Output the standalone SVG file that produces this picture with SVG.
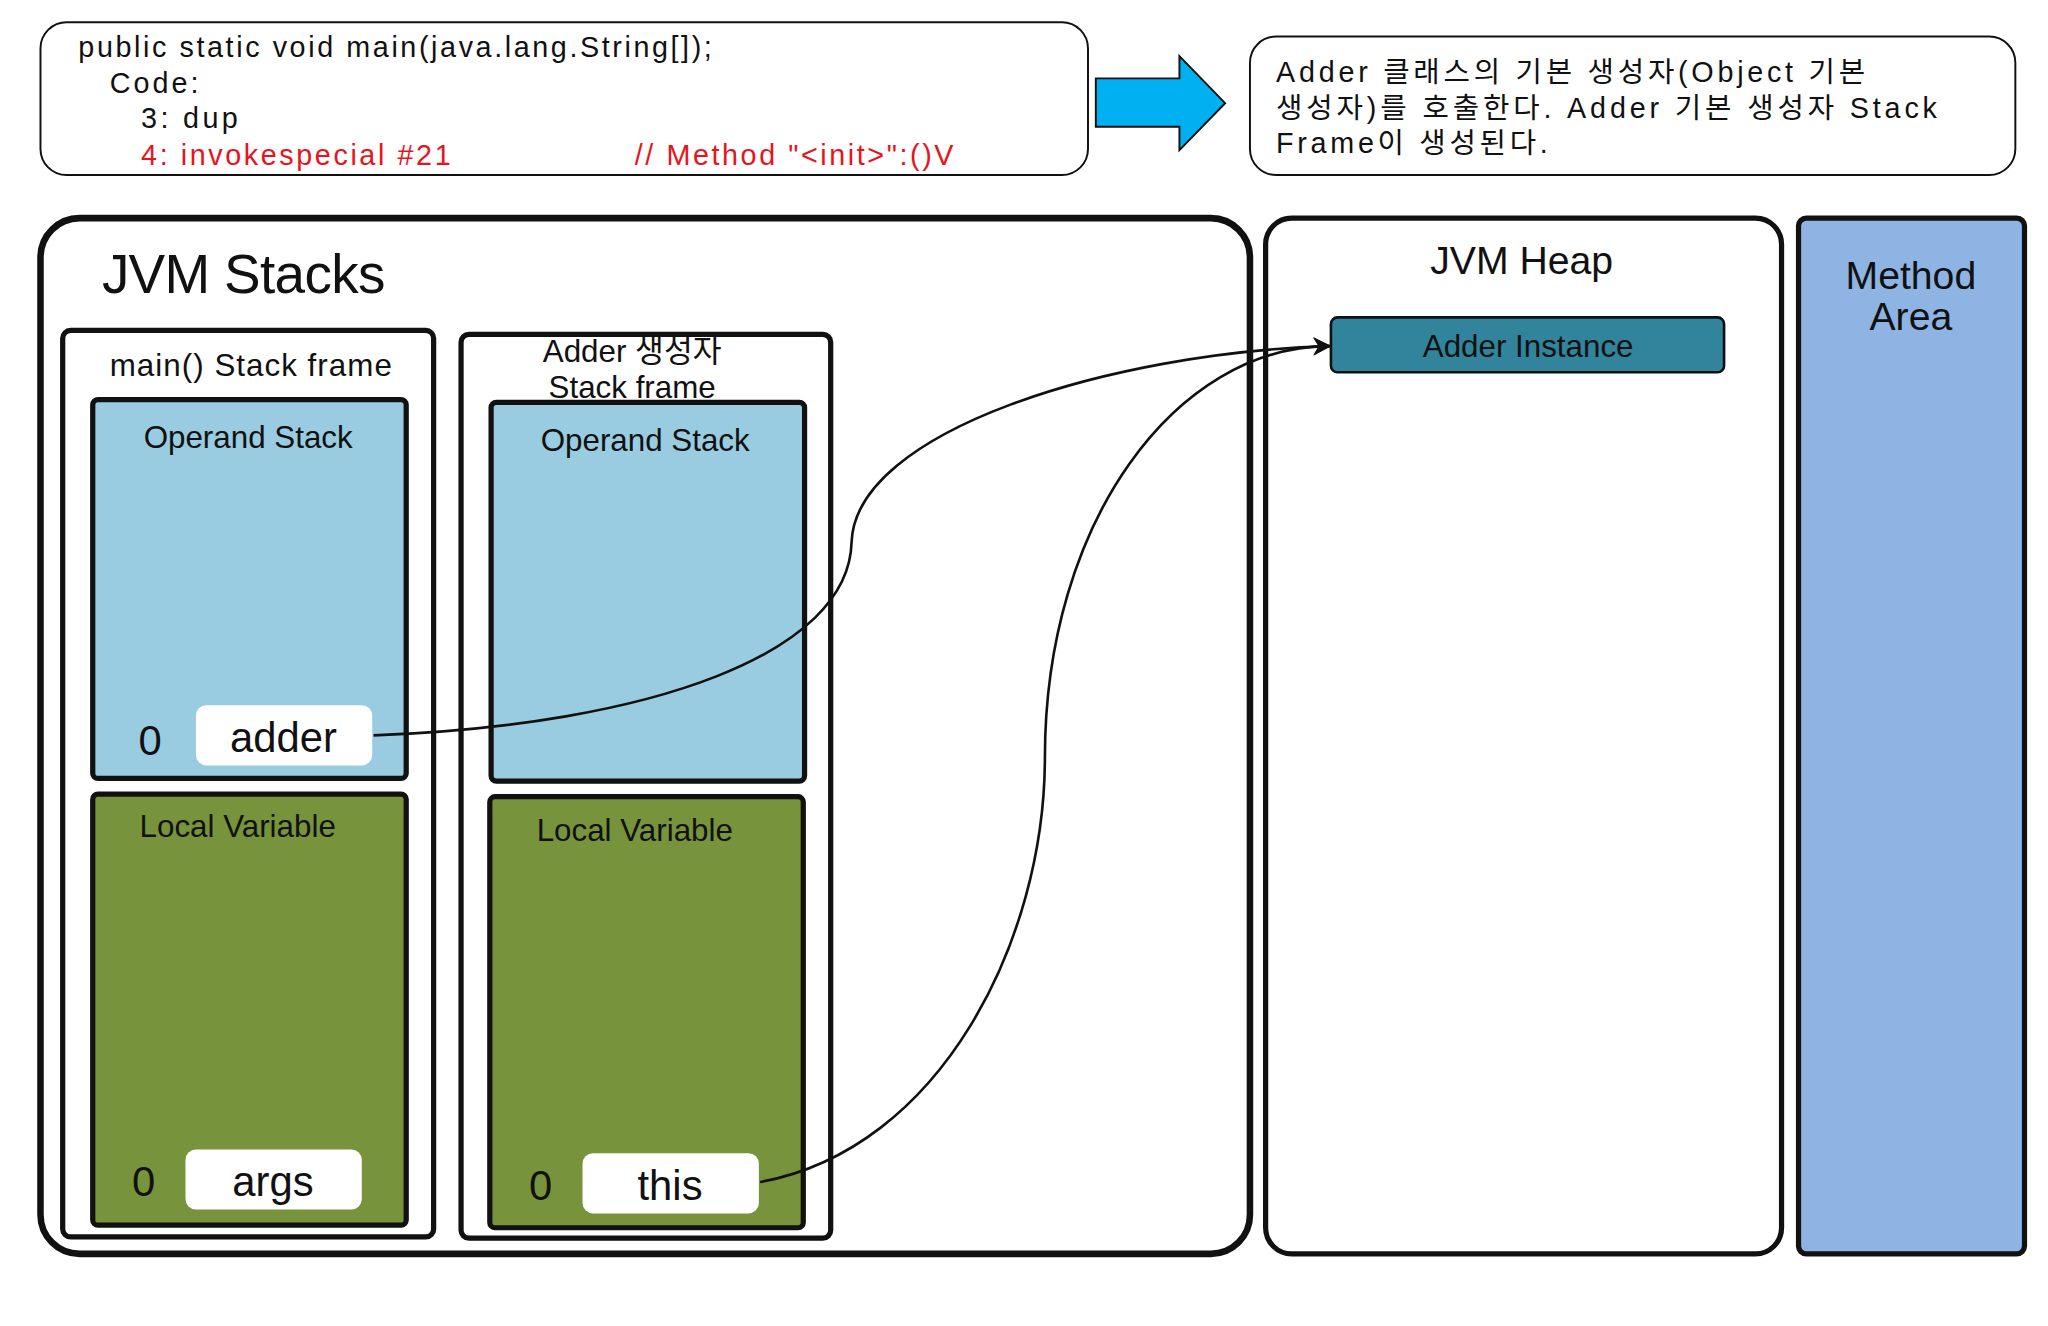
<svg xmlns="http://www.w3.org/2000/svg" width="2048" height="1326" viewBox="0 0 2048 1326">
<style>
text{font-family:"Liberation Sans","Noto Sans CJK KR",sans-serif;fill:#111}
.c{text-anchor:middle}
.box{fill:#fff;stroke:#111}
.op{fill:#99CCE0;stroke:#111;stroke-width:4}
.lv{fill:#77933C;stroke:#111;stroke-width:4}
.slot{fill:#fff;stroke:none}
.red{fill:#e8141c}
</style>
<defs><marker id="ah" viewBox="0 0 10 10" refX="9" refY="5" markerWidth="7" markerHeight="7" orient="auto"><path d="M0,0 L10,5 L0,10 L3,5 z" fill="#111"/></marker></defs>
<rect width="2048" height="1326" fill="#fff"/>
<g transform="scale(1.30612)">
<g id="code"><rect class="box" x="31" y="17" width="802" height="117" rx="20" stroke-width="1.5"/>
<text x="60" y="44" font-size="22" textLength="485" lengthAdjust="spacing">public static void main(java.lang.String[]);</text>
<text x="84" y="71" font-size="22" textLength="68" lengthAdjust="spacing">Code:</text>
<text x="108" y="98" font-size="22" textLength="74" lengthAdjust="spacing">3: dup</text>
<text x="108" y="126" font-size="22" class="red" textLength="237" lengthAdjust="spacing">4: invokespecial #21</text>
<text x="486" y="126" font-size="22" class="red" textLength="244" lengthAdjust="spacing">// Method "&lt;init&gt;":()V</text></g>
<g id="arrow"><polygon points="839,60 903,60 903,43 938,79 903,115 903,97 839,97" fill="#00B0F0" stroke="#111" stroke-width="1.5"/></g>
<g id="desc"><rect class="box" x="957" y="28" width="586" height="106" rx="20" stroke-width="1.5"/>
<text x="977" y="63" font-size="22" textLength="451" lengthAdjust="spacing">Adder 클래스의 기본 생성자(Object 기본</text>
<text x="977" y="90" font-size="22" textLength="506" lengthAdjust="spacing">생성자)를 호출한다. Adder 기본 생성자 Stack</text>
<text x="977" y="117" font-size="22" textLength="208" lengthAdjust="spacing">Frame이 생성된다.</text></g>
<g id="stacks"><rect class="box" x="31" y="167" width="926" height="793" rx="30" stroke-width="5"/>
<text x="78" y="224" font-size="42" textLength="217" lengthAdjust="spacing">JVM Stacks</text></g>
<g id="mainframe"><rect class="box" x="48" y="253" width="284" height="694" rx="6" stroke-width="4"/>
<text class="c" x="192" y="288" font-size="24" textLength="216" lengthAdjust="spacing">main() Stack frame</text>
<rect class="op" x="71" y="306" width="240" height="290" rx="4"/>
<text class="c" x="190" y="343" font-size="24">Operand Stack</text>
<rect class="slot" x="150" y="540" width="135" height="46" rx="8"/>
<text x="106" y="578" font-size="32">0</text>
<text class="c" x="217" y="576" font-size="32">adder</text>
<rect class="lv" x="71" y="608" width="240" height="330" rx="4"/>
<text class="c" x="182" y="641" font-size="24">Local Variable</text>
<rect class="slot" x="142" y="880" width="135" height="46" rx="8"/>
<text x="101" y="916" font-size="32">0</text>
<text class="c" x="209" y="916" font-size="32">args</text></g>
<g id="adderframe"><rect class="box" x="353" y="256" width="283" height="692" rx="6" stroke-width="4"/>
<text class="c" x="484" y="277" font-size="24">Adder 생성자</text>
<text class="c" x="484" y="305" font-size="24">Stack frame</text>
<rect class="op" x="376" y="308" width="240" height="290" rx="4"/>
<text class="c" x="494" y="345" font-size="24">Operand Stack</text>
<rect class="lv" x="375" y="610" width="240" height="330" rx="4"/>
<text class="c" x="486" y="644" font-size="24">Local Variable</text>
<rect class="slot" x="446" y="883" width="135" height="46" rx="8"/>
<text x="405" y="919" font-size="32">0</text>
<text class="c" x="513" y="919" font-size="32">this</text></g>
<g id="heap"><rect class="box" x="969" y="167" width="395" height="793" rx="20" stroke-width="4"/>
<text class="c" x="1165" y="210" font-size="30">JVM Heap</text></g>
<g id="instance"><rect x="1019" y="243" width="301" height="42" rx="5" fill="#31849B" stroke="#111" stroke-width="2"/>
<text class="c" x="1170" y="273" font-size="24">Adder Instance</text></g>
<g id="method"><rect x="1377" y="167" width="173" height="793" rx="6" fill="#8EB4E3" stroke="#111" stroke-width="4"/>
<text class="c" x="1463" y="221" font-size="30">Method</text>
<text class="c" x="1463" y="253" font-size="30">Area</text></g>
<g id="connectors" fill="none" stroke="#111" stroke-width="2">
<path d="M286,563 C500,555 650,500 652,415 C655,330 850,270 1018,265" marker-end="url(#ah)"/>
<path d="M582,905 C720,880 800,720 800,580 C800,400 900,265 1018,265" marker-end="url(#ah)"/>
</g>
</g>
</svg>
